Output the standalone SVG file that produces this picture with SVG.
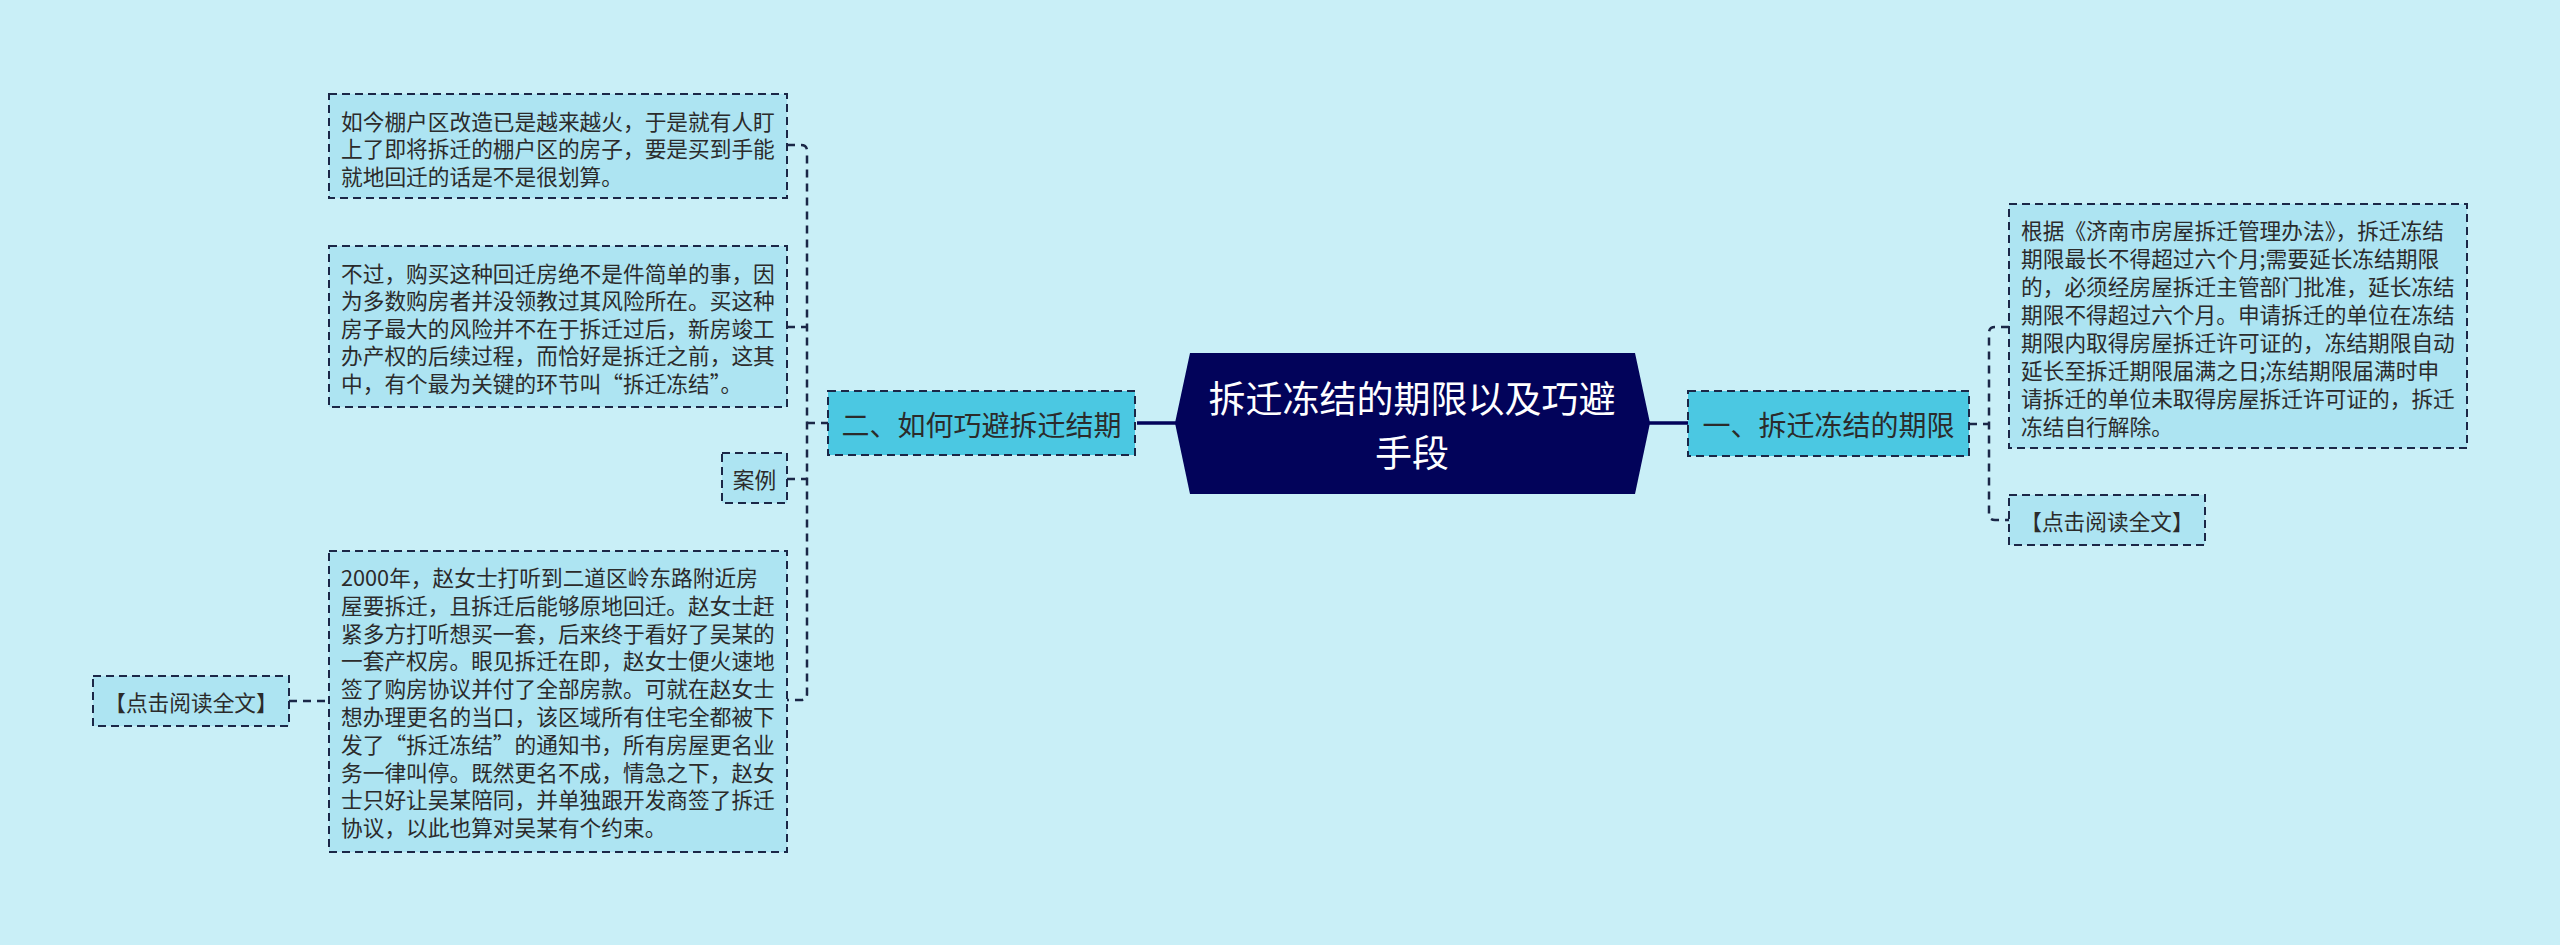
<svg xmlns="http://www.w3.org/2000/svg" width="2560" height="945" viewBox="0 0 2560 945">
<defs>
<style>
.bg{fill:#C9EFF7}
.detail{fill:#ADE4F2;stroke:#1B2747;stroke-width:2;stroke-dasharray:8 5}
.branch{fill:#4BC8E2;stroke:#1B2747;stroke-width:2;stroke-dasharray:8 5}
.main{fill:#02035A}
.t{font-family:"Noto Sans CJK SC","Noto Sans",sans-serif;fill:#2B2B2B;dominant-baseline:central}
.d{font-size:21.7px}
.b{font-size:28px;text-anchor:middle}
.m{font-size:37px;fill:#FFFFFF;text-anchor:middle}
.c{text-anchor:middle}
.dash{fill:none;stroke:#1B2747;stroke-width:2.5;stroke-dasharray:8 6}
.solid{fill:none;stroke:#02035A;stroke-width:3.5}
</style>
</defs>
<rect class="bg" x="0" y="0" width="2560" height="945"/>

<g id="connectors">
<path class="solid" d="M1137 423 H1176"/>
<path class="solid" d="M1649 423 H1688"/>
<path class="dash" d="M787 145 H801 Q807 145 807 151 V694 Q807 700 801 700 H787"/>
<path class="dash" d="M787 327 H807"/>
<path class="dash" d="M787 479 H807"/>
<path class="dash" d="M807 423 H828"/>
<path class="dash" d="M289 701 H329"/>
<path class="dash" d="M1969 424 H1989"/>
<path class="dash" d="M2009 327 H1995 Q1989 327 1989 333 V514 Q1989 520 1995 520 H2009"/>
</g>

<g id="main">
<polygon class="main" points="1190,353 1635,353 1650,423 1635,494 1190,494 1175,423"/>
<text class="t m" x="1412" y="397">拆迁冻结的期限以及巧避</text>
<text class="t m" x="1412" y="451">手段</text>
</g>

<g id="branch2">
<rect class="branch" x="828" y="391" width="307" height="64"/>
<text class="t b" x="981.5" y="424">二、如何巧避拆迁结期</text>
</g>

<g id="branch1">
<rect class="branch" x="1688" y="391" width="281" height="65"/>
<text class="t b" x="1828.5" y="424">一、拆迁冻结的期限</text>
</g>

<g id="detail-l1">
<rect class="detail" x="329" y="94" width="458" height="104"/>
<text class="t d" x="341" y="120">如今棚户区改造已是越来越火，于是就有人盯</text>
<text class="t d" x="341" y="147.5">上了即将拆迁的棚户区的房子，要是买到手能</text>
<text class="t d" x="341" y="175">就地回迁的话是不是很划算。</text>
</g>

<g id="detail-l2">
<rect class="detail" x="329" y="246" width="458" height="161"/>
<text class="t d" x="341" y="272">不过，购买这种回迁房绝不是件简单的事，因</text>
<text class="t d" x="341" y="299.6">为多数购房者并没领教过其风险所在。买这种</text>
<text class="t d" x="341" y="327.2">房子最大的风险并不在于拆迁过后，新房竣工</text>
<text class="t d" x="341" y="354.8">办产权的后续过程，而恰好是拆迁之前，这其</text>
<text class="t d" x="341" y="382.4">中，有个最为关键的环节叫“拆迁冻结”。</text>
</g>

<g id="case">
<rect class="detail" x="722" y="453" width="65" height="50"/>
<text class="t d c" x="754.5" y="478">案例</text>
</g>

<g id="detail-l4">
<rect class="detail" x="329" y="551" width="458" height="301"/>
<text class="t d" x="341" y="576.5">2000年，赵女士打听到二道区岭东路附近房</text>
<text class="t d" x="341" y="604.3">屋要拆迁，且拆迁后能够原地回迁。赵女士赶</text>
<text class="t d" x="341" y="632.1">紧多方打听想买一套，后来终于看好了吴某的</text>
<text class="t d" x="341" y="659.9">一套产权房。眼见拆迁在即，赵女士便火速地</text>
<text class="t d" x="341" y="687.7">签了购房协议并付了全部房款。可就在赵女士</text>
<text class="t d" x="341" y="715.5">想办理更名的当口，该区域所有住宅全都被下</text>
<text class="t d" x="341" y="743.3">发了“拆迁冻结”的通知书，所有房屋更名业</text>
<text class="t d" x="341" y="771.1">务一律叫停。既然更名不成，情急之下，赵女</text>
<text class="t d" x="341" y="798.9">士只好让吴某陪同，并单独跟开发商签了拆迁</text>
<text class="t d" x="341" y="826.7">协议，以此也算对吴某有个约束。</text>
</g>

<g id="readmore-l">
<rect class="detail" x="93" y="676" width="196" height="50"/>
<text class="t d c" x="191" y="701">【点击阅读全文】</text>
</g>

<g id="detail-r1">
<rect class="detail" x="2009" y="204" width="458" height="244"/>
<text class="t d" x="2021" y="229">根据《济南市房屋拆迁管理办法》，拆迁冻结</text>
<text class="t d" x="2021" y="257">期限最长不得超过六个月;需要延长冻结期限</text>
<text class="t d" x="2021" y="285">的，必须经房屋拆迁主管部门批准，延长冻结</text>
<text class="t d" x="2021" y="313">期限不得超过六个月。申请拆迁的单位在冻结</text>
<text class="t d" x="2021" y="341">期限内取得房屋拆迁许可证的，冻结期限自动</text>
<text class="t d" x="2021" y="369">延长至拆迁期限届满之日;冻结期限届满时申</text>
<text class="t d" x="2021" y="397">请拆迁的单位未取得房屋拆迁许可证的，拆迁</text>
<text class="t d" x="2021" y="425">冻结自行解除。</text>
</g>

<g id="readmore-r">
<rect class="detail" x="2009" y="495" width="196" height="50"/>
<text class="t d c" x="2107" y="520">【点击阅读全文】</text>
</g>
</svg>
